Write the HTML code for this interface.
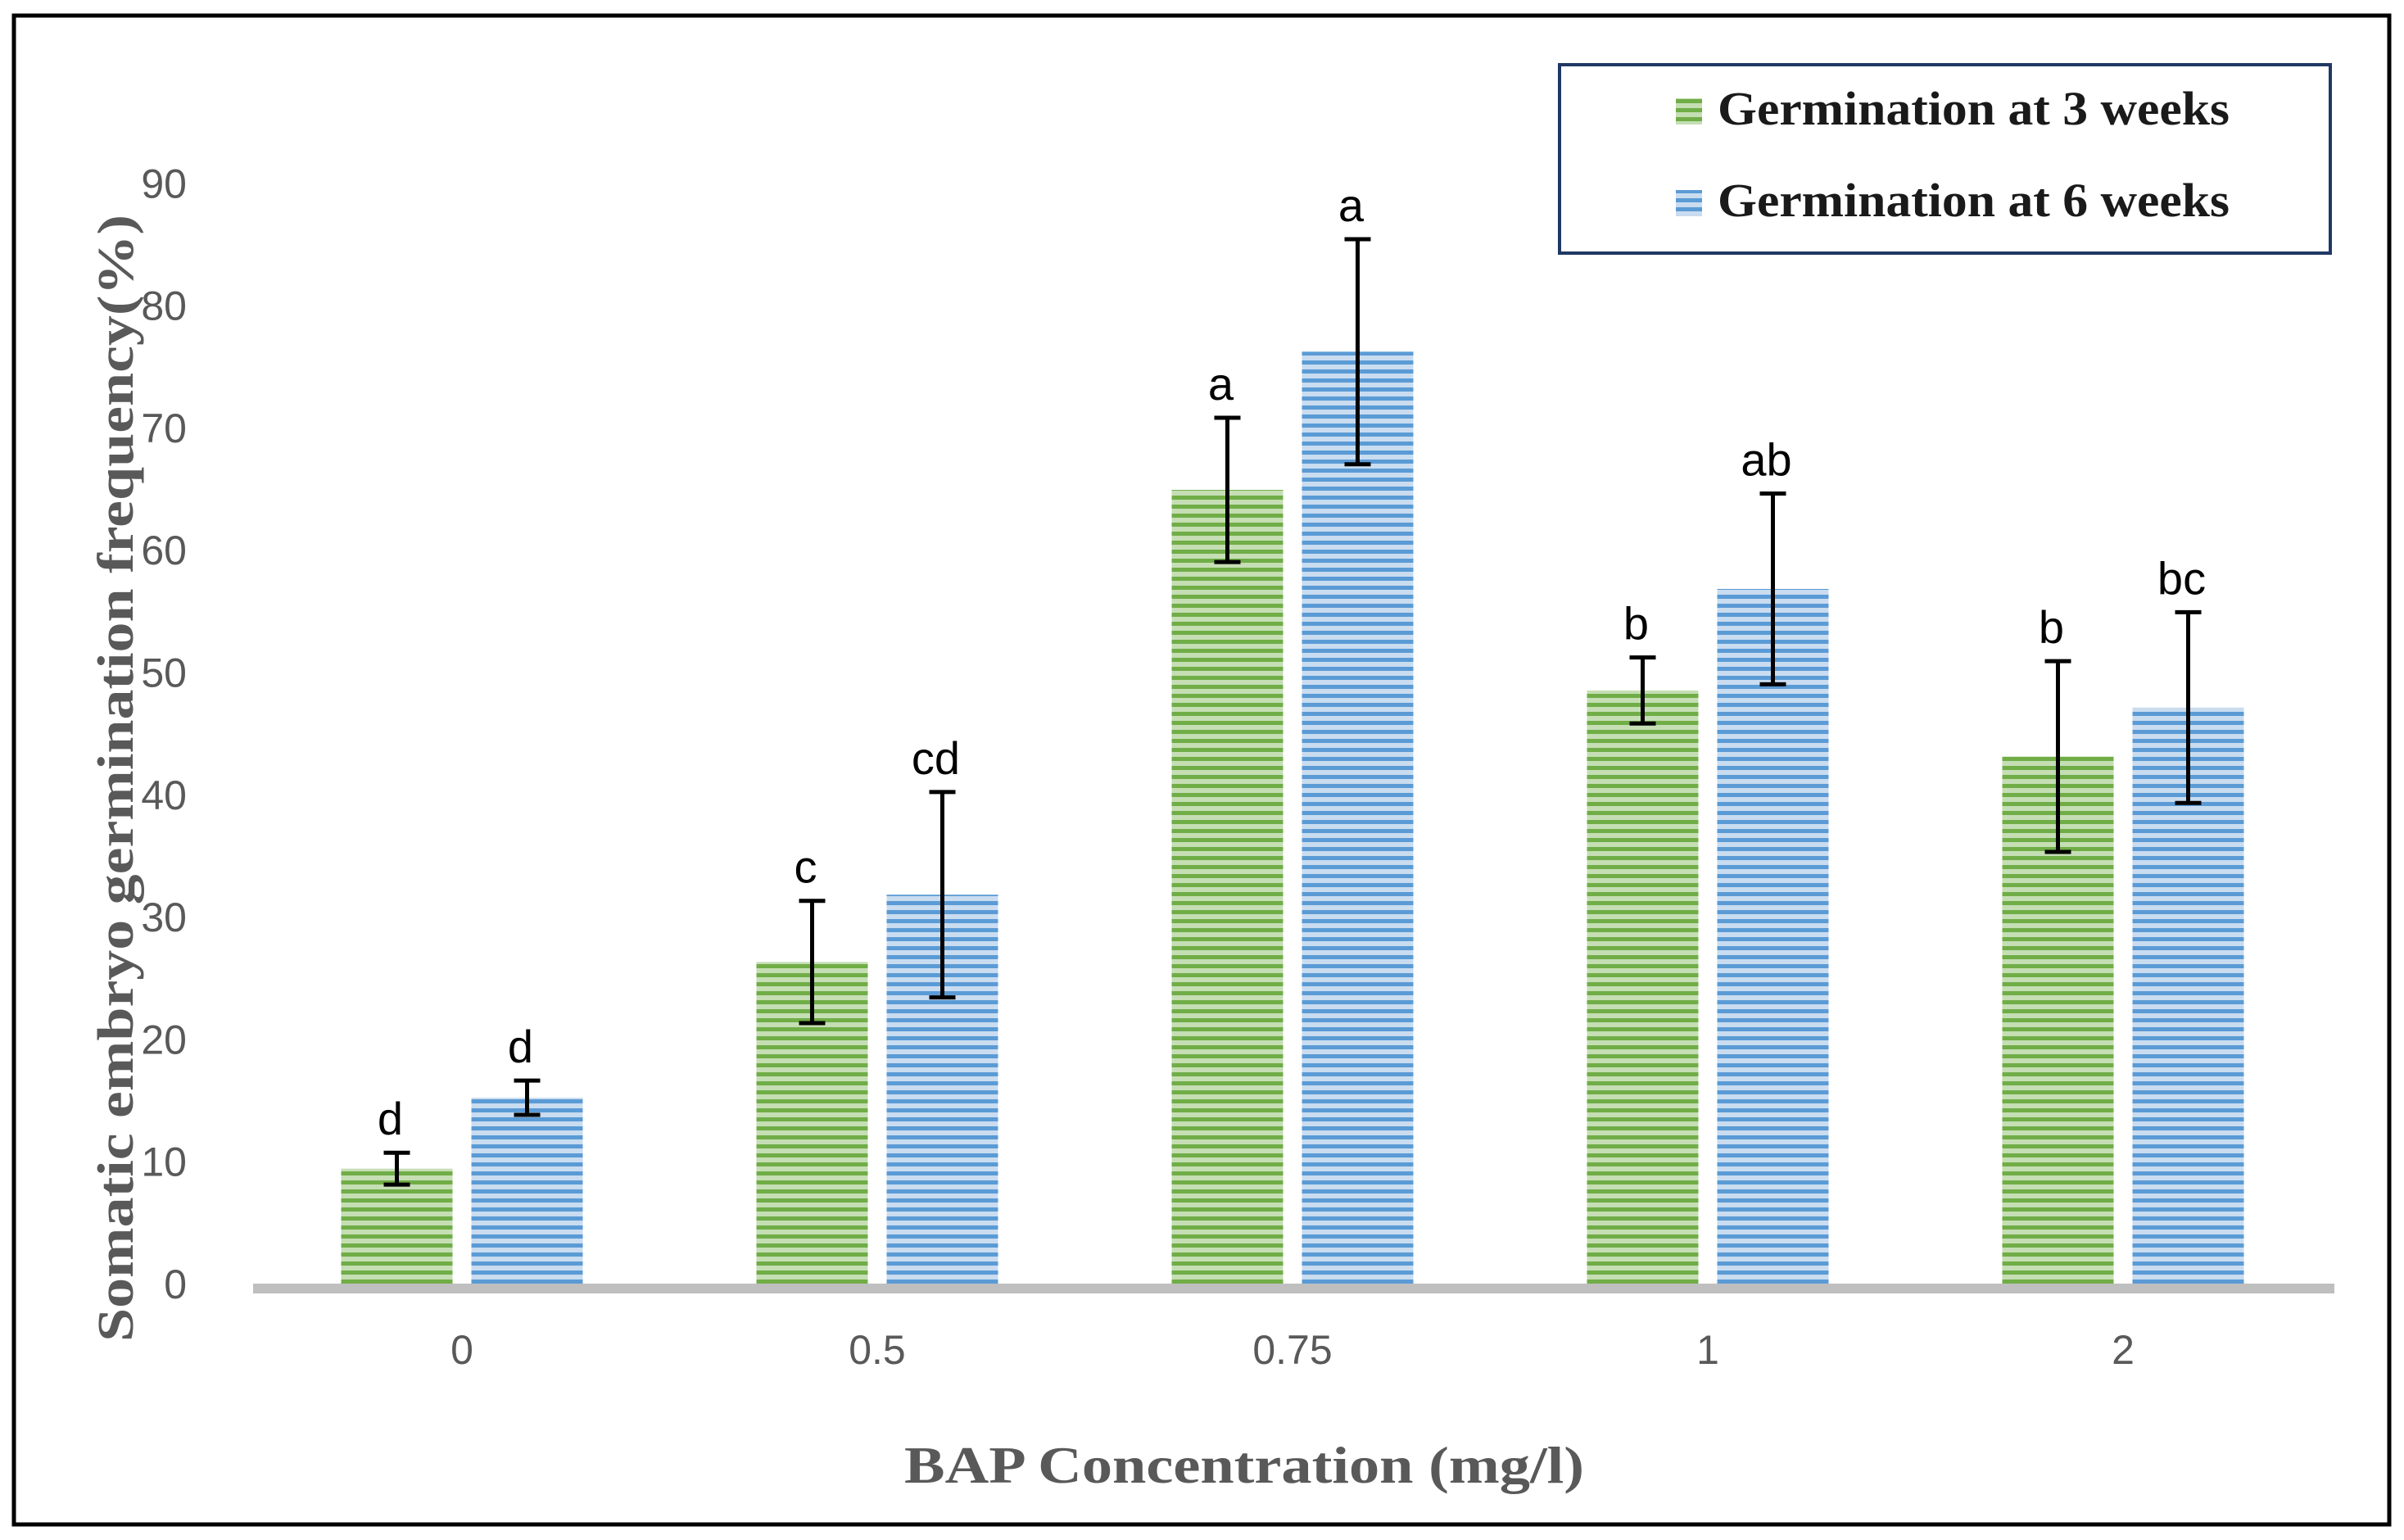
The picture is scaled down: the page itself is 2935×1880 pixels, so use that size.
<!DOCTYPE html>
<html><head><meta charset="utf-8"><style>
html,body{margin:0;padding:0;background:#fff;}
svg{display:block;}
</style></head><body>
<svg id="chart" width="2935" height="1880" viewBox="0 0 2935 1880" xmlns="http://www.w3.org/2000/svg">
<defs>
<pattern id="pg" patternUnits="userSpaceOnUse" width="20" height="11"><rect width="20" height="11" fill="#c5deb4"/><rect y="0" width="20" height="5" fill="#70ad47"/></pattern>
<pattern id="pb" patternUnits="userSpaceOnUse" width="20" height="11"><rect width="20" height="11" fill="#c9dcf0"/><rect y="0" width="20" height="5" fill="#5b9bd5"/></pattern>
</defs>
<rect x="17" y="19" width="2900" height="1842" fill="#fff" stroke="#000" stroke-width="5"/>
<g id="yticks"></g>
<g id="xticks"></g>
<g id="bars"></g>
<rect x="309" y="1567" width="2541" height="12" fill="#bfbfbf"/>
<g id="errs"></g>
<text transform="translate(162,950) rotate(-90)" text-anchor="middle" font-family="Liberation Serif, serif" font-weight="bold" font-size="62" fill="#595959" textLength="1376" lengthAdjust="spacingAndGlyphs">Somatic embryo germination  frequency(%)</text>
<text x="1519" y="1810" text-anchor="middle" font-family="Liberation Serif, serif" font-weight="bold" font-size="64" fill="#595959" textLength="830" lengthAdjust="spacingAndGlyphs">BAP Concentration (mg/l)</text>
<g>
<rect x="1904" y="79" width="941" height="230" fill="#fff" stroke="#1f3864" stroke-width="4"/>
<rect x="2046" y="120" width="32" height="32" fill="url(#pg)"/>
<text x="2097" y="152" font-family="Liberation Serif, serif" font-weight="bold" font-size="58" fill="#1a1a1a" textLength="625" lengthAdjust="spacingAndGlyphs">Germination at 3 weeks</text>
<rect x="2046" y="232" width="32" height="32" fill="url(#pb)"/>
<text x="2097" y="264" font-family="Liberation Serif, serif" font-weight="bold" font-size="58" fill="#1a1a1a" textLength="625" lengthAdjust="spacingAndGlyphs">Germination at 6 weeks</text>
</g>
</svg>
<script>
const categories = ["0","0.5","0.75","1","2"];
const week3 = [9.4, 26.3, 64.9, 48.5, 43.1];
const week6 = [15.2, 31.8, 76.2, 56.8, 47.1];
const err3 = [1.3, 5.0, 5.9, 2.7, 7.8];
const err6 = [1.4, 8.4, 9.2, 7.8, 7.8];
const letters3 = ["d","c","a","b","b"];
const letters6 = ["d","cd","a","ab","bc"];
const yTicks = [0,10,20,30,40,50,60,70,80,90];

const NS = "http://www.w3.org/2000/svg";
function y(v){ return 1567 - v*14.93; }
function xc(i){ return 564 + i*507; }
const BW = 136, GAP = 23;
function mk(tag, attrs, parent){
  const e = document.createElementNS(NS, tag);
  for (const k in attrs) e.setAttribute(k, attrs[k]);
  parent.appendChild(e); return e;
}
const yt = document.getElementById('yticks');
yTicks.forEach(t=>{
  const e = mk('text',{x:228,y:y(t)+18,'text-anchor':'end','font-family':'Liberation Sans, sans-serif','font-size':50,fill:'#595959'},yt);
  
  
  e.textContent = t;
});
const xt = document.getElementById('xticks');
categories.forEach((c,i)=>{
  const e = mk('text',{x:xc(i),y:1665,'text-anchor':'middle','font-family':'Liberation Sans, sans-serif','font-size':50,fill:'#595959'},xt);
  
  
  e.textContent = c;
});
const bg = document.getElementById('bars');
const eg = document.getElementById('errs');
function series(vals, errs, lets, fill, side, name){
  vals.forEach((v,i)=>{
    const x0 = side<0 ? xc(i)-GAP/2-BW : xc(i)+GAP/2;
    const r = mk('rect',{x:x0,y:y(v),width:BW,height:y(0)-y(v),fill:fill},bg);
    
    
    const cx = x0+BW/2, top=y(v+errs[i]), bot=y(v-errs[i]);
    const g = mk('g',{stroke:'#000','stroke-width':5},eg);
    
    
    mk('line',{x1:cx,x2:cx,y1:top,y2:bot},g);
    mk('line',{x1:cx-16,x2:cx+16,y1:top,y2:top},g);
    mk('line',{x1:cx-16,x2:cx+16,y1:bot,y2:bot},g);
    const t = mk('text',{x:cx-8,y:top-22,'text-anchor':'middle','font-family':'Liberation Sans, sans-serif','font-size':56,fill:'#000'},eg);
    
    
    t.textContent = lets[i];
  });
}
series(week3, err3, letters3, 'url(#pg)', -1, '3wk');
series(week6, err6, letters6, 'url(#pb)', 1, '6wk');
</script>
</body></html>
